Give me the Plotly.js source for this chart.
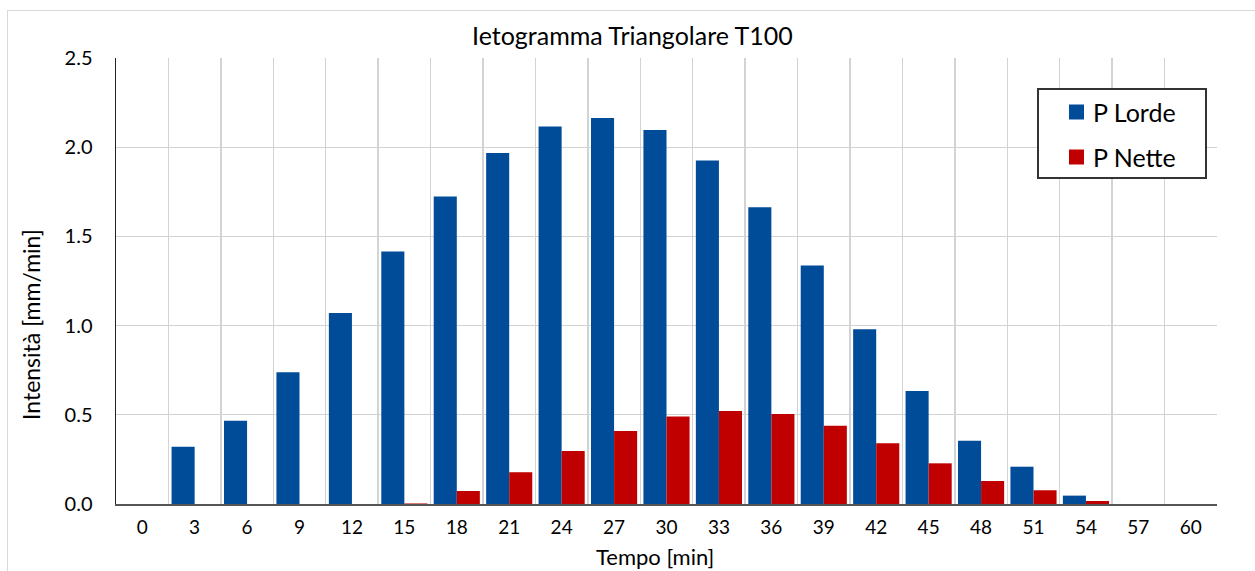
<!DOCTYPE html>
<html>
<head>
<meta charset="utf-8">
<script src="https://cdn.plot.ly/plotly-3.0.1.min.js"></script>
<style>
  html, body { margin: 0; padding: 0; background: #fff; overflow: hidden; }
  #wrap { position: relative; width: 1255px; height: 571px; }
  #chart { position: absolute; left: 0; top: 0; width: 1255px; height: 571px; }
  #frame { position: absolute; left: 7px; top: 10px; width: 1260px; height: 600px;
           border: 1.5px solid #d9d9d9; pointer-events: none; box-sizing: border-box; }
</style>
</head>
<body>
<div id="wrap">
  <div id="chart"></div>
  <div id="frame"></div>
</div>
<script>
// ---- data ----
const tempo = ['0','3','6','9','12','15','18','21','24','27','30','33','36','39','42','45','48','51','54','57','60'];
const pLorde = [0, 0.321, 0.466, 0.739, 1.071, 1.415, 1.723, 1.967, 2.116, 2.163, 2.096, 1.926, 1.664, 1.337, 0.980, 0.634, 0.355, 0.209, 0.047, 0, 0];
const pNette = [0, 0, 0, 0, 0, 0.003, 0.073, 0.178, 0.297, 0.409, 0.490, 0.522, 0.505, 0.439, 0.340, 0.228, 0.129, 0.077, 0.017, 0, 0];
const seriesNames = ['P Lorde', 'P Nette'];
const seriesColors = ['#004C99', '#C00000'];
const chartTitle = 'Ietogramma Triangolare T100';
const xTitle = 'Tempo [min]';
const yTitle = 'Intensità [mm/min]';

// ---- layout geometry (pixels) ----
const W = 1255, H = 571;
const L = 116, R = 1217, T = 58, B = 504;
const px = x => (x - L) / (R - L);
const py = y => (B - y) / (B - T);
const FONT = 'Lato, "Open Sans", sans-serif';

const traces = [
  { type: 'bar', x: tempo, y: pLorde, name: seriesNames[0],
    marker: { color: seriesColors[0], line: { width: 0 } }, showlegend: false },
  { type: 'bar', x: tempo, y: pNette, name: seriesNames[1],
    marker: { color: seriesColors[1], line: { width: 0 } }, showlegend: false }
];

const shapes = [
  { type: 'rect', xref: 'paper', yref: 'paper', x0: px(1038), x1: px(1206), y0: py(89), y1: py(178),
    line: { color: '#333333', width: 2 }, fillcolor: '#ffffff', layer: 'above' },
  { type: 'rect', xref: 'paper', yref: 'paper', x0: px(1069), x1: px(1084), y0: py(104.5), y1: py(119.5),
    line: { width: 0 }, fillcolor: seriesColors[0], layer: 'above' },
  { type: 'rect', xref: 'paper', yref: 'paper', x0: px(1069), x1: px(1084), y0: py(149.5), y1: py(164.5),
    line: { width: 0 }, fillcolor: seriesColors[1], layer: 'above' }
];

const annotations = [
  { xref: 'paper', yref: 'paper', x: px(1091), y: py(112), xanchor: 'left', yanchor: 'middle',
    text: seriesNames[0], showarrow: false, font: { family: FONT, size: 25, color: '#000' } },
  { xref: 'paper', yref: 'paper', x: px(1091), y: py(157), xanchor: 'left', yanchor: 'middle',
    text: seriesNames[1], showarrow: false, font: { family: FONT, size: 25, color: '#000' } },
  { xref: 'paper', yref: 'paper', x: px(654.5), y: py(556), xanchor: 'center', yanchor: 'middle',
    text: xTitle, showarrow: false, borderpad: 0, font: { family: FONT, size: 22, color: '#000' } },
  { xref: 'paper', yref: 'paper', x: px(31), y: py(325), xanchor: 'center', yanchor: 'middle',
    text: yTitle, textangle: -90, showarrow: false, font: { family: FONT, size: 23, color: '#000' } }
];

const layout = {
  width: W, height: H,
  margin: { l: L, r: W - R, t: T, b: H - B, pad: 0 },
  paper_bgcolor: 'rgba(255,255,255,0)',
  plot_bgcolor: '#ffffff',
  font: { family: FONT, size: 20, color: '#000' },
  title: { text: chartTitle, xref: 'container', yref: 'container', x: 632.5 / W, xanchor: 'center',
           y: 1 - 36 / H, yanchor: 'middle', font: { family: FONT, size: 25, color: '#000' } },
  barmode: 'group', bargap: 0.12, bargroupgap: 0,
  xaxis: {
    type: 'category', tickson: 'boundaries', showgrid: true, gridcolor: '#d3d3d3', gridwidth: 1.3,
    showline: true, linecolor: '#555555', linewidth: 2, ticks: '', ticklabelstandoff: 5,
    tickfont: { family: FONT, size: 19, color: '#000' }, zeroline: false, fixedrange: true
  },
  yaxis: {
    range: [0, 2.5], dtick: 0.5, tick0: 0, tickformat: '.1f', showgrid: true, gridcolor: '#d3d3d3', gridwidth: 1.3,
    showline: true, linecolor: '#222222', linewidth: 1.5, ticks: '', ticklabelstandoff: 18,
    tickfont: { family: FONT, size: 20, color: '#000' }, zeroline: false, fixedrange: true
  },
  shapes: shapes,
  annotations: annotations
};

Plotly.newPlot('chart', traces, layout, { displayModeBar: false, staticPlot: true });
</script>
</body>
</html>
